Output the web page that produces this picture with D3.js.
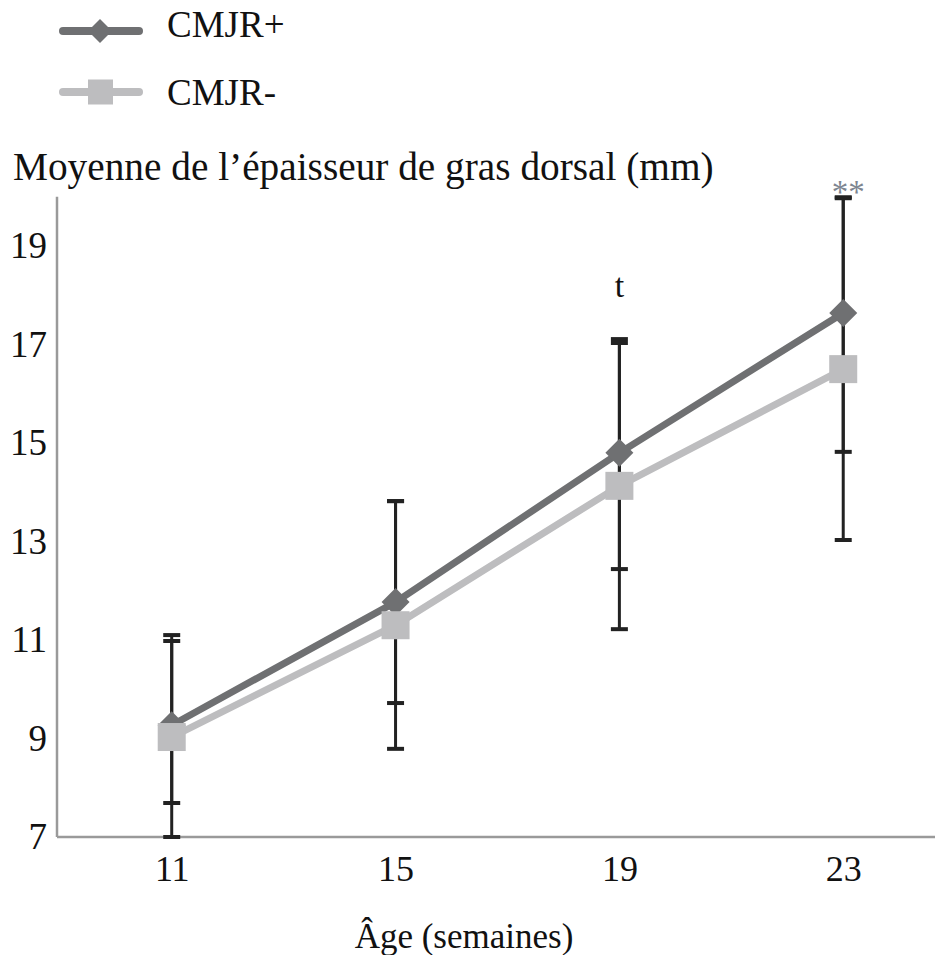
<!DOCTYPE html>
<html><head><meta charset="utf-8">
<script src="https://cdn.jsdelivr.net/npm/d3@7"></script>
<style>body{margin:0;background:#fff}svg{display:block}text{font-family:"Liberation Serif","Times New Roman",serif}</style>
</head><body>
<script>
const weeks = [11, 15, 19, 23];
const seriesNames = ["CMJR+", "CMJR-"];
const meanPlus = [9.27, 11.77, 14.80, 17.64];
const meanMinus = [9.03, 11.30, 14.13, 16.50];
const lowPlus = [7.69, 9.72, 12.44, 14.82];
const highPlus = [10.98, 13.82, 17.11, 19.99];
const lowMinus = [7.0, 8.79, 11.22, 13.03];
const highMinus = [11.10, 13.82, 17.03, 19.97];
const yTicks = [7, 9, 11, 13, 15, 17, 19];

const W = 949, H = 955;
const svg = d3.select("body").append("svg").attr("width", W).attr("height", H);
const x = d3.scaleLinear().domain([8.95, 24.64]).range([57, 935]);
const y = d3.scaleLinear().domain([7, 19]).range([837, 246]);
const yTop = 20.0;

const colors = {"CMJR+": "#6f7072", "CMJR-": "#bdbdbf"};
const serif = '"Liberation Serif","Times New Roman",serif';

// axes
const axisCol = "#9a9a9a";
svg.append("line").attr("x1", x.range()[0]).attr("x2", x.range()[0]).attr("y1", y(yTop)).attr("y2", y(7)).attr("stroke", axisCol).attr("stroke-width", 2.5);
svg.append("line").attr("x1", x.range()[0]).attr("x2", x.range()[1]).attr("y1", y(7)).attr("y2", y(7)).attr("stroke", axisCol).attr("stroke-width", 2.5);

const yAxis = d3.axisLeft(y).tickValues(yTicks).tickSize(0).tickPadding(10);
const gy = svg.append("g").attr("transform", `translate(${x.range()[0]},0)`).call(yAxis);
gy.select(".domain").remove();
gy.selectAll("text").attr("font-size", 37).attr("fill", "#111").attr("font-family", serif);

const xAxis = d3.axisBottom(x).tickValues(weeks).tickSize(0).tickPadding(18);
const gx = svg.append("g").attr("transform", `translate(0,${y(7)})`).call(xAxis);
gx.select(".domain").remove();
gx.selectAll("text").attr("font-size", 36).attr("fill", "#111").attr("font-family", serif);

// titles
svg.append("text").attr("x", 13).attr("y", 180).attr("font-size", 39.3).attr("fill", "#111").text("Moyenne de l\u2019épaisseur de gras dorsal (mm)");
svg.append("text").attr("x", 464).attr("y", 948).attr("text-anchor", "middle").attr("font-size", 35).attr("fill", "#111").text("Âge (semaines)");

// error bars
const capW = 17;
const bars = [];
weeks.forEach((w, i) => {
  bars.push({w, lo: lowPlus[i], hi: highPlus[i]});
  bars.push({w, lo: lowMinus[i], hi: highMinus[i]});
});
const eb = svg.append("g").attr("stroke", "#222").attr("stroke-width", 3);
bars.forEach(b => {
  eb.append("line").attr("x1", x(b.w)).attr("x2", x(b.w)).attr("y1", y(b.lo)).attr("y2", y(b.hi));
  [b.lo, b.hi].forEach(v => eb.append("line").attr("x1", x(b.w) - capW/2).attr("x2", x(b.w) + capW/2).attr("y1", y(v)).attr("y2", y(v)).attr("stroke-width", 4));
});

// lines and markers
const line = d3.line().x(d => x(d[0])).y(d => y(d[1]));
const diamond = (cx, cy, r) => `M${cx},${cy-r}L${cx+r},${cy}L${cx},${cy+r}L${cx-r},${cy}Z`;
function drawSeries(name, vals) {
  const pts = weeks.map((w, i) => [w, vals[i]]);
  svg.append("path").datum(pts).attr("d", line).attr("fill", "none").attr("stroke", colors[name]).attr("stroke-width", 7).attr("stroke-linejoin", "round");
  pts.forEach(p => {
    if (name === "CMJR+") svg.append("path").attr("d", diamond(x(p[0]), y(p[1]), 14)).attr("fill", colors[name]);
    else svg.append("rect").attr("x", x(p[0]) - 14).attr("y", y(p[1]) - 14).attr("width", 28).attr("height", 28).attr("fill", colors[name]);
  });
}
drawSeries("CMJR+", meanPlus);
drawSeries("CMJR-", meanMinus);

// annotations
svg.append("text").attr("x", x(19)).attr("y", 297).attr("text-anchor", "middle").attr("font-size", 34).attr("fill", "#111").text("t");
svg.append("text").attr("x", x(23) + 5).attr("y", 203).attr("text-anchor", "middle").attr("font-size", 33).attr("fill", "#7d8590").text("**");

// legend
seriesNames.forEach((name, i) => {
  const ly = 31 + i * 61;
  const g = svg.append("g");
  g.append("line").attr("x1", 63).attr("x2", 139).attr("y1", ly).attr("y2", ly).attr("stroke", colors[name]).attr("stroke-width", 8).attr("stroke-linecap", "round");
  if (name === "CMJR+") g.append("path").attr("d", diamond(100, ly, 12)).attr("fill", colors[name]);
  else g.append("rect").attr("x", 88).attr("y", ly - 12.5).attr("width", 25).attr("height", 25).attr("fill", colors[name]);
  g.append("text").attr("x", 167).attr("y", ly + 6 + i * 7).attr("font-size", 37).attr("fill", "#111").text(name);
});
</script>
</body></html>
